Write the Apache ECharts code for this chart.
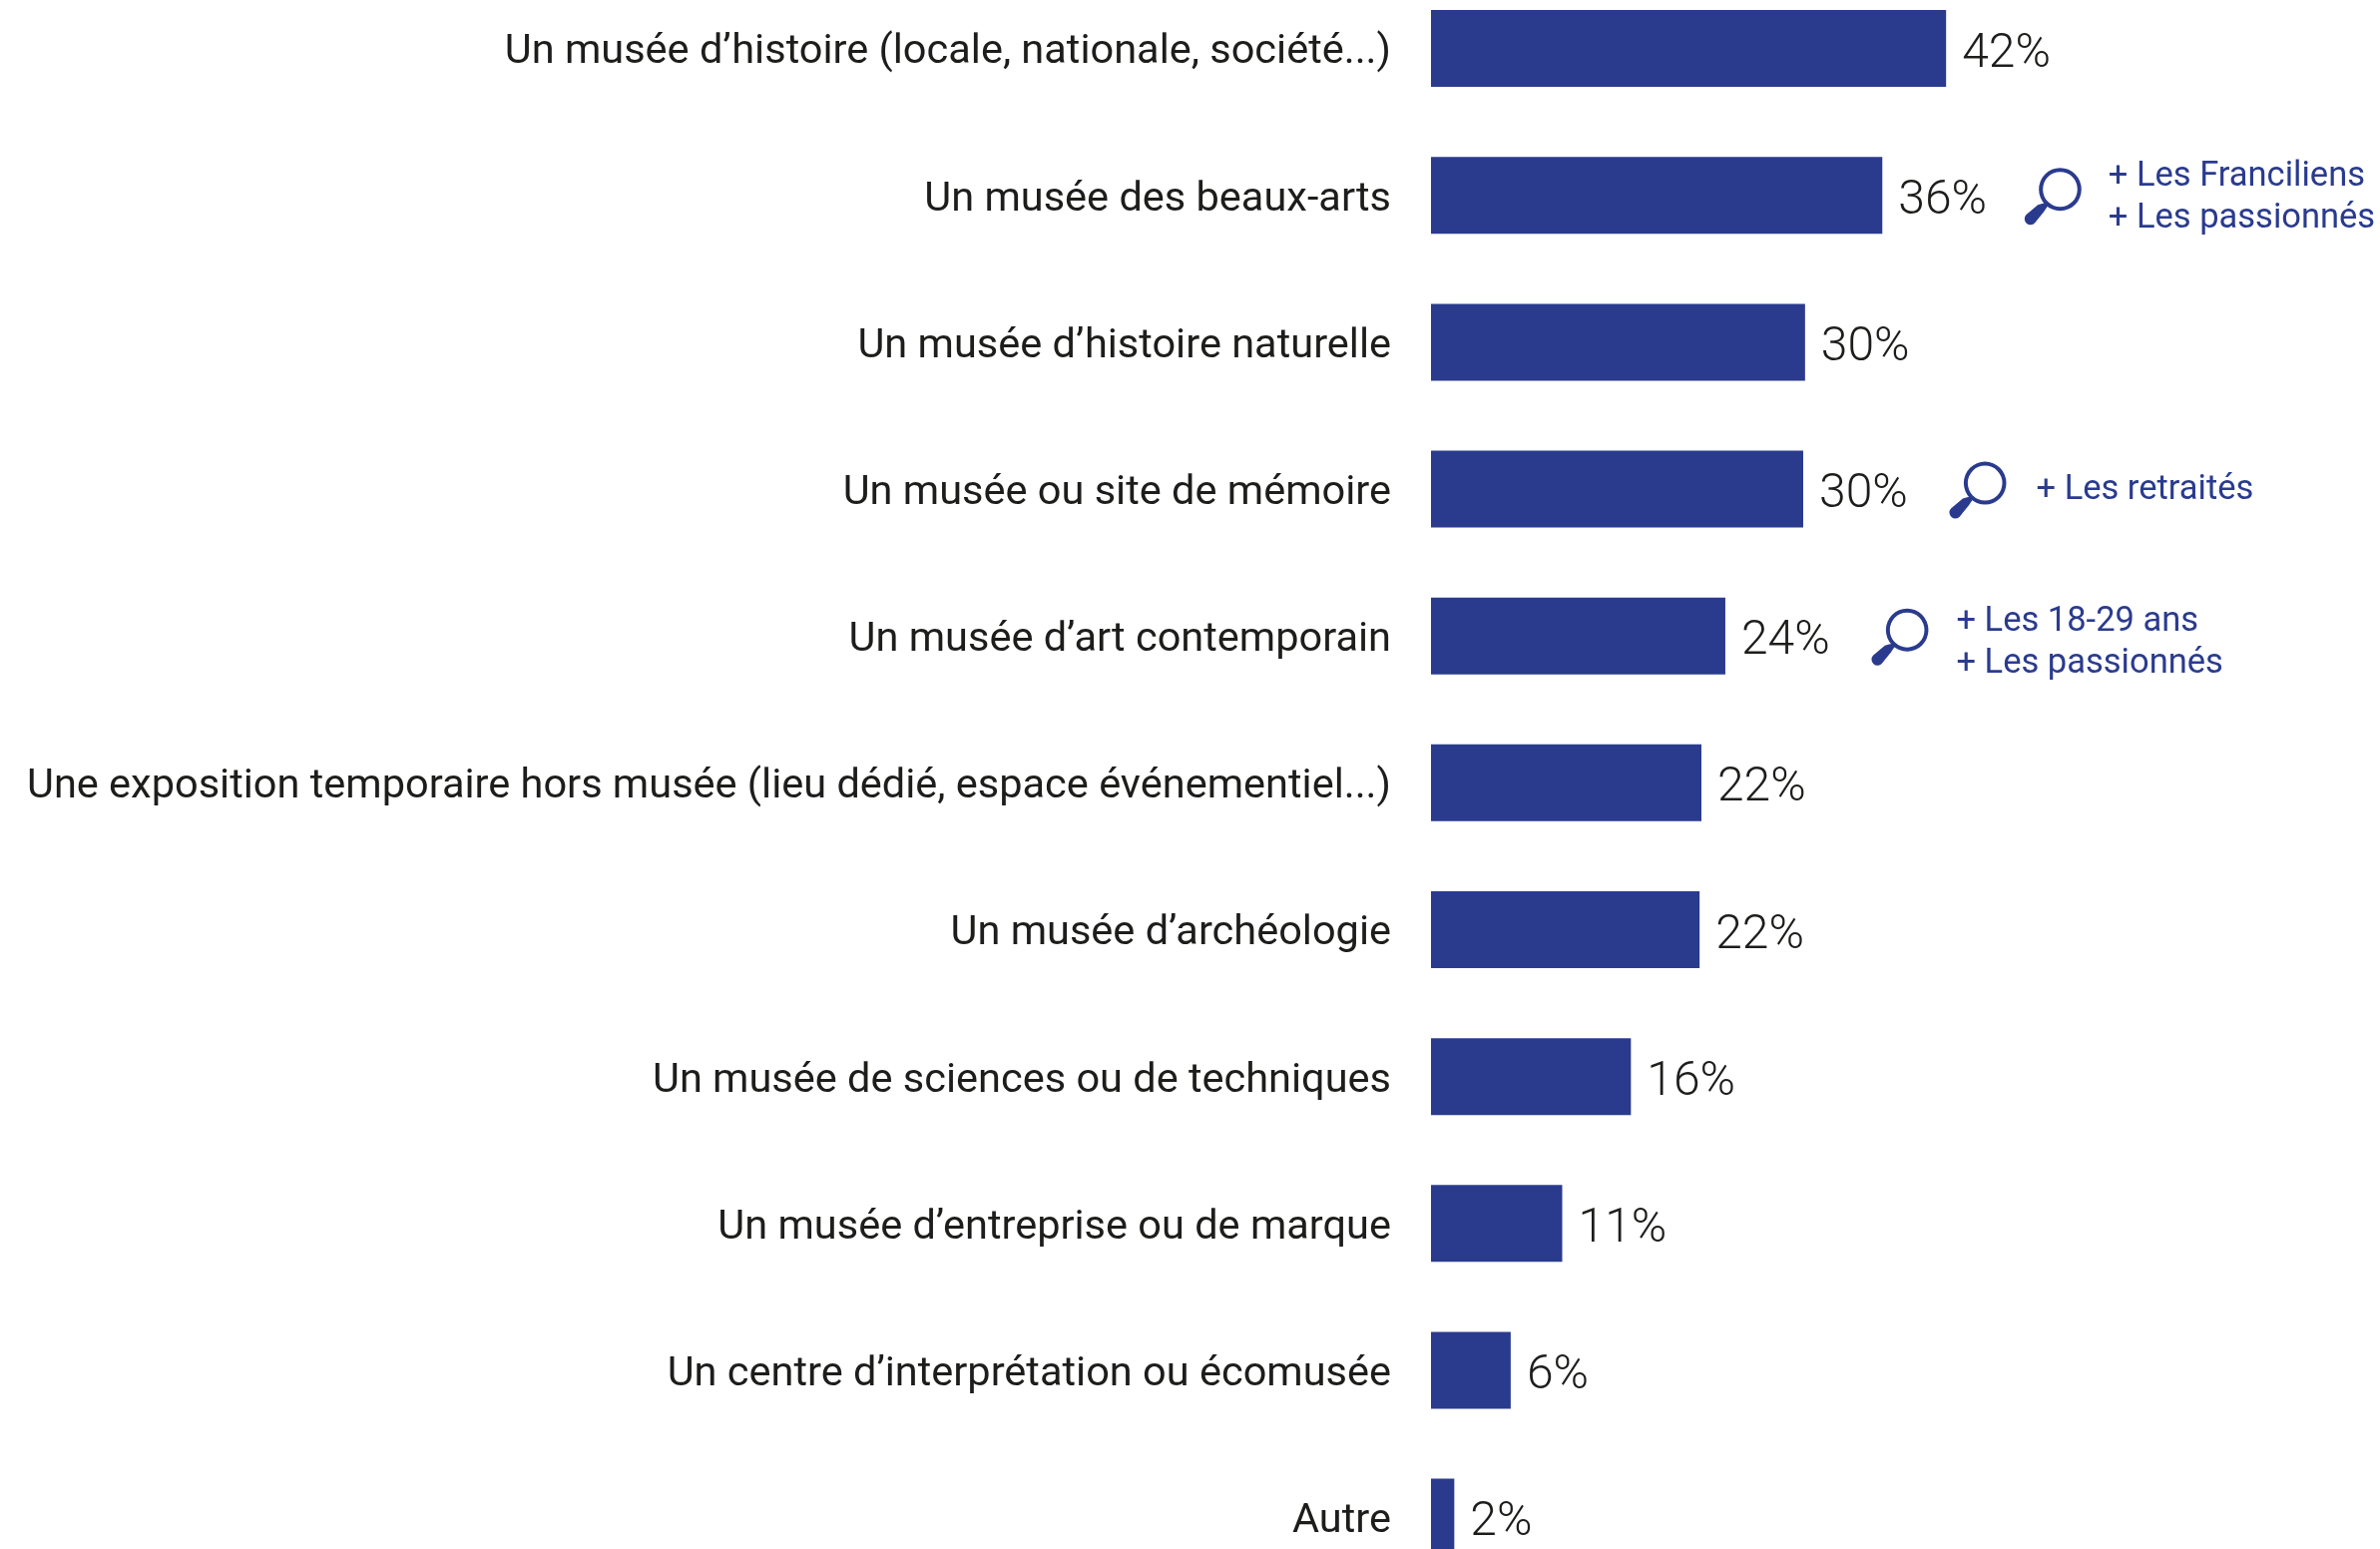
<!DOCTYPE html>
<html><head><meta charset="utf-8">
<style>html,body{margin:0;padding:0;background:#fff;overflow:hidden;width:2385px;height:1552px}#c{position:absolute;left:0;top:-50px;width:2385px;height:1700px}</style>
<script src="https://cdn.jsdelivr.net/npm/echarts@6/dist/echarts.min.js"></script></head>
<body><div id="c"></div>
<script>
const categories = ["Un musée d’histoire (locale, nationale, société...)","Un musée des beaux-arts","Un musée d’histoire naturelle","Un musée ou site de mémoire","Un musée d’art contemporain","Une exposition temporaire hors musée (lieu dédié, espace événementiel...)","Un musée d’archéologie","Un musée de sciences ou de techniques","Un musée d’entreprise ou de marque","Un centre d’interprétation ou écomusée","Autre"];
const barValues = [42, 36.8, 30.5, 30.35, 24, 22.05, 21.9, 16.3, 10.7, 6.5, 1.9];
const valueLabels = ["42%","36%","30%","30%","24%","22%","22%","16%","11%","6%","2%"];
const notes = [null,"+ Les Franciliens\n+ Les passionnés",null,"+ Les retraités","+ Les 18-29 ans\n+ Les passionnés",null,null,null,null,null,null];
const BLUE = "#2a3b8e", INK = "#1d1d1b", FONT = "Roboto";
const LENS = "path://M14 21.5A21.5 21.5 0 1 1 57 21.5A21.5 21.5 0 1 1 14 21.5ZM18 21.5A17.5 17.5 0 1 0 53 21.5A17.5 17.5 0 1 0 18 21.5ZM20 35L23 38L19 44Q14 50 10 55A6 6 0 0 1 1 47L13 37Z";
const nudges = {1:{s:[171,1], l:[0,2]}, 3:{s:[175,1], l:[3,0]}, 4:{s:[175,1], l:[1,6]}};
const noteData = notes.map((n,i)=> n ? {value:[barValues[i], i], note:n, symbolOffset:nudges[i].s, label:{offset:nudges[i].l}} : null).filter(Boolean);
const chart = echarts.init(document.getElementById('c'), null, {renderer:'canvas'});
chart.setOption({
  animation:false, backgroundColor:"#fff",
  grid:{left:1434, top:25, width:614.5, height:1618.7, containLabel:false},
  xAxis:{type:'value', min:0, max:50, show:false},
  yAxis:{type:'category', inverse:true, data:categories,
    axisLine:{show:false}, axisTick:{show:false},
    axisLabel:{margin:40, color:INK, fontFamily:FONT, fontSize:41.5, align:'right', verticalAlign:'top', lineHeight:9}},
  series:[
    {type:'bar', data:barValues, barWidth:77, itemStyle:{color:BLUE},
     label:{show:true, position:'right', distance:16, color:INK, fontFamily:FONT, fontSize:48, fontWeight:300,
       offset:[0,6], formatter:p=>valueLabels[p.dataIndex]}},
    {type:'scatter', data:noteData, symbol:LENS, symbolSize:57, itemStyle:{color:BLUE, opacity:1}, z:3,
     label:{show:true, position:'right', distance:27, color:BLUE, fontFamily:FONT, fontSize:34.5, lineHeight:42, align:'left',
       formatter:p=>p.data.note}}
  ]
});
</script></body></html>
